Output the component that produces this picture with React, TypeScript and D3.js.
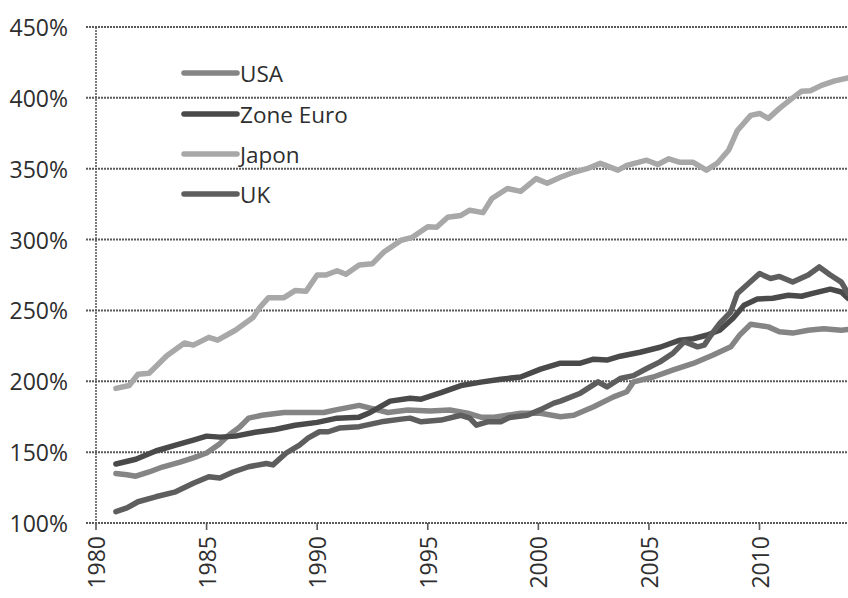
import React from "react";
import * as d3 from "d3";

const yTicks = [100, 150, 200, 250, 300, 350, 400, 450];
const xTicks = [1980, 1985, 1990, 1995, 2000, 2005, 2010];
const seriesNames = ["USA", "Zone Euro", "Japon", "UK"];
const seriesColors = ["#858585", "#4a4a4a", "#a8a8a8", "#5e5e5e"];

const usa: [number, number][] = [
  [1980.9, 135], [1981.4, 134], [1981.8, 133], [1982.4, 136], [1983.0, 139.5], [1983.8, 143],
  [1984.4, 146], [1985.0, 149.4], [1985.6, 156], [1986.0, 162], [1986.5, 167.7], [1986.9, 174],
  [1987.5, 176], [1988.5, 178], [1989.4, 178], [1990.3, 178], [1990.9, 180], [1991.9, 183],
  [1992.4, 181], [1993.2, 178], [1994.1, 179.7], [1995.1, 179], [1996.0, 179.7], [1996.8, 177.5],
  [1997.4, 174.7], [1998.0, 174.7], [1998.6, 176], [1999.2, 177.5], [2000.1, 177.4], [2001.0, 175],
  [2001.6, 176], [2002.5, 182], [2003.4, 189], [2004.0, 192.6], [2004.3, 199.6], [2005.2, 203],
  [2006.1, 208], [2007.0, 212.6], [2007.9, 218.5], [2008.7, 224.3], [2009.1, 232.6], [2009.6, 240.3],
  [2010.4, 238.4], [2010.9, 235], [2011.5, 234], [2012.2, 236], [2012.9, 237], [2013.7, 236], [2014.0, 236.6],
];

const euro: [number, number][] = [
  [1980.9, 141.6], [1981.8, 145], [1982.7, 150.8], [1983.6, 155], [1984.4, 158.5], [1985.0, 161.3],
  [1985.6, 160.6], [1986.3, 161.3], [1987.2, 164], [1988.1, 166], [1989.0, 169], [1990.0, 171],
  [1990.9, 174], [1991.9, 174.7], [1992.4, 178], [1993.3, 186], [1994.2, 188], [1994.7, 187.4],
  [1995.6, 192], [1996.5, 197], [1997.4, 199.4], [1998.3, 201.5], [1999.2, 203], [2000.1, 208.6],
  [2001.0, 212.8], [2001.9, 212.8], [2002.5, 215.6], [2003.1, 215], [2003.7, 217.7], [2004.6, 220.5],
  [2005.5, 224], [2006.4, 229], [2007.0, 230], [2007.6, 232.5], [2008.2, 236], [2008.8, 244.5],
  [2009.3, 253.7], [2009.9, 258], [2010.6, 258.6], [2011.3, 260.7], [2011.9, 260], [2012.4, 262],
  [2013.2, 265], [2013.7, 263], [2014.0, 258.6],
];

const japon: [number, number][] = [
  [1980.9, 195], [1981.5, 197], [1981.9, 205], [1982.4, 205.7], [1983.2, 218], [1984.0, 227],
  [1984.4, 225.5], [1985.1, 231], [1985.5, 229], [1986.3, 236], [1987.1, 245], [1987.4, 252],
  [1987.8, 259], [1988.5, 259], [1989.0, 264], [1989.5, 263.6], [1990.0, 275], [1990.4, 275],
  [1990.9, 278], [1991.3, 275.5], [1991.9, 282], [1992.5, 283], [1993.0, 291], [1993.8, 299.5],
  [1994.3, 301.6], [1995.0, 309], [1995.4, 308.7], [1995.9, 315.7], [1996.5, 317], [1996.9, 320.7],
  [1997.5, 319], [1997.9, 329], [1998.6, 336], [1999.2, 334], [1999.9, 343], [2000.4, 339.7],
  [2001.0, 344], [2001.6, 347.5], [2002.2, 350], [2002.8, 353.8], [2003.6, 349], [2004.0, 352.4],
  [2004.9, 356], [2005.4, 353], [2005.9, 357], [2006.4, 354.5], [2007.0, 354.5], [2007.6, 349],
  [2008.1, 354], [2008.6, 363], [2009.0, 377], [2009.6, 387.6], [2010.0, 389], [2010.4, 385.5],
  [2010.9, 392.6], [2011.5, 400], [2011.9, 404.6], [2012.3, 405], [2012.8, 408.8], [2013.4, 412],
  [2014.0, 414],
];

const uk: [number, number][] = [
  [1980.9, 108], [1981.4, 110.6], [1981.9, 115], [1982.7, 118.5], [1983.6, 122], [1984.4, 128],
  [1985.1, 132.6], [1985.6, 131.7], [1986.2, 136], [1986.9, 139.7], [1987.7, 142], [1988.0, 141],
  [1988.6, 149.4], [1989.2, 155], [1989.6, 160], [1990.1, 164.4], [1990.5, 164.4], [1991.0, 167],
  [1991.9, 168], [1992.9, 171.4], [1993.8, 173.3], [1994.2, 174], [1994.7, 171.4], [1995.6, 172.6],
  [1996.5, 176], [1996.9, 174], [1997.2, 169], [1997.7, 171.4], [1998.3, 171.4], [1998.7, 174.5],
  [1999.5, 176], [2000.1, 180], [2000.7, 184.6], [2001.0, 186], [2001.9, 191.6], [2002.7, 199.6],
  [2003.1, 196], [2003.7, 202], [2004.3, 204], [2004.9, 209], [2005.5, 213.7], [2006.1, 220],
  [2006.6, 228], [2007.2, 224.3], [2007.5, 225.5], [2007.8, 232.5], [2008.2, 240.8], [2008.7, 249],
  [2009.0, 262], [2009.5, 269], [2010.0, 276], [2010.5, 272.5], [2010.9, 274], [2011.5, 270],
  [2012.2, 275], [2012.7, 280.7], [2013.2, 275], [2013.7, 270], [2014.0, 262],
];

const seriesData = [usa, euro, japon, uk];

const W = 848;
const H = 598;
const FONT = "'Open Sans', 'Liberation Sans', sans-serif";

export default function App() {
  const x = d3.scaleLinear().domain([1980, 2014]).range([96, 848]);
  const y = d3.scaleLinear().domain([100, 450]).range([523, 27]);
  const line = d3
    .line<[number, number]>()
    .x((d) => x(d[0]))
    .y((d) => y(d[1]));

  const gridColor = "#5a5a5a";
  const legendY = [73, 114, 154, 194];

  return (
    <svg
      width={W}
      height={H}
      style={{ position: "absolute", left: 0, top: 0, background: "#fff" }}
      fontFamily={FONT}
    >
      <rect x={0} y={0} width={W} height={H} fill="#fff" />
      {yTicks.map((t) => (
        <g key={t}>
          <line
            x1={86}
            x2={W}
            y1={y(t)}
            y2={y(t)}
            stroke={gridColor}
            strokeWidth={2}
            strokeDasharray="2 1"
          />
          <text
            x={68}
            y={y(t)}
            textAnchor="end"
            dominantBaseline="central"
            fontSize={23}
            fill="#2e2e2e"
          >
            {t}%
          </text>
        </g>
      ))}
      <line x1={x(1980)} x2={x(1980)} y1={y(450)} y2={y(100)} stroke={gridColor} strokeWidth={1.6} strokeDasharray="2 1" />
      {xTicks.map((t) => (
        <g key={t}>
          <line x1={x(t)} x2={x(t)} y1={y(100)} y2={y(100) + 7} stroke={gridColor} strokeWidth={1.6} />
          <text
            transform={`translate(${x(t)},${536}) rotate(-90)`}
            textAnchor="end"
            dominantBaseline="central"
            fontSize={23}
            fill="#2e2e2e"
          >
            {t}
          </text>
        </g>
      ))}
      {seriesData.map((d, i) => (
        <path
          key={seriesNames[i]}
          d={line(d) || ""}
          fill="none"
          stroke={seriesColors[i]}
          strokeWidth={5.5}
          strokeLinejoin="round"
          strokeLinecap="round"
        />
      ))}
      {seriesNames.map((n, i) => (
        <g key={n}>
          <line
            x1={184}
            x2={237}
            y1={legendY[i]}
            y2={legendY[i]}
            stroke={seriesColors[i]}
            strokeWidth={5.5}
            strokeLinecap="round"
          />
          <text x={240} y={legendY[i]} dominantBaseline="central" fontSize={22.5} fill="#2e2e2e">
            {n}
          </text>
        </g>
      ))}
    </svg>
  );
}
